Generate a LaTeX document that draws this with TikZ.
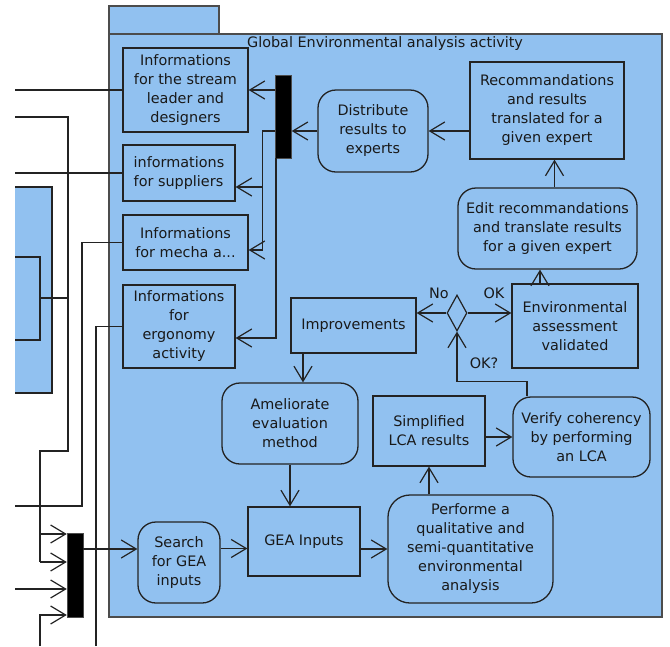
\documentclass[tikz,border=0pt]{standalone}
\usepackage{fontspec}
\setmainfont{DejaVu Sans}
\usetikzlibrary{arrows.meta,shapes.geometric}
\definecolor{actblue}{RGB}{145,193,240}
\definecolor{edge}{RGB}{35,35,35}

\begin{document}
\begin{tikzpicture}[x=1pt,y=-1pt,
        every node/.style={font=\fontsize{14.4}{19}\selectfont,text=black!90},
        objbox/.style={draw=edge,line width=1.3pt,fill=actblue,inner sep=0pt,align=center},
        action/.style={objbox,rounded corners=18pt},
        decision/.style={draw=edge,line width=1.2pt,fill=actblue,diamond,inner sep=0pt,minimum width=20pt,minimum height=36pt},
        forkbar/.style={draw=black!70,fill=black,inner sep=0pt,minimum width=16pt},
        wire/.style={draw=edge,line width=1.2pt},
        flow/.style={wire,-{Straight Barb[length=15pt,width=18pt]}}]
        \useasboundingbox (0,0) rectangle (670,646);

        % frame of the activity and the cut off box on the left
        \draw[fill=actblue,draw=black!70,line width=1.3pt] (109,6) rectangle (219,34);
        \draw[fill=actblue,draw=black!70,line width=1.3pt] (109,34) rectangle (662,617);
        \node (title) at (385,44) {Global Environmental analysis activity};
        \fill[actblue] (15,187) rectangle (52,393);
        \draw[wire] (15,187) -- (52,187) -- (52,393) -- (15,393);
        \draw[wire] (15,257) -- (40,257) -- (40,340) -- (15,340);
        \draw[wire] (40,298) -- (68,298);

        \node[objbox,minimum width=125pt,minimum height=84pt] (stream) at (185.5,90) {Informations\\for the stream\\leader and\\designers};
        \node[objbox,minimum width=112pt,minimum height=56pt,align=left] (suppl) at (179,173) {informations\\for suppliers};
        \node[objbox,minimum width=125pt,minimum height=55pt] (mecha) at (185.5,242.5) {Informations\\for mecha a...};
        \node[objbox,minimum width=112pt,minimum height=83pt] (ergo) at (179,326.5) {Informations\\for\\ergonomy\\activity};
        \node[forkbar,minimum height=83pt] (forkT) at (283.5,116.5) {};
        \node[action,minimum width=110pt,minimum height=82pt] (distrib) at (373,131) {Distribute\\results to\\experts};
        \node[objbox,minimum width=154pt,minimum height=97pt] (recom) at (547,110.5) {Recommandations\\and results\\translated for a\\given expert};
        \node[action,minimum width=179pt,minimum height=81pt] (edit) at (547.5,228.5) {Edit recommandations\\and translate results\\for a given expert};
        \node[objbox,minimum width=126pt,minimum height=84pt] (envok) at (575,326) {Environmental\\assessment\\validated};
        \node[decision] (check) at (457,313) {};
        \node[objbox,minimum width=125pt,minimum height=55pt] (improve) at (353.5,325.5) {Improvements};
        \node[action,minimum width=136pt,minimum height=81pt] (amelio) at (290,423.5) {Ameliorate\\evaluation\\method};
        \node[objbox,minimum width=112pt,minimum height=70pt] (slca) at (429,431) {Simplified\\LCA results};
        \node[action,minimum width=137pt,minimum height=80pt] (verify) at (581.5,437) {Verify coherency\\by performing\\an LCA};
        \node[objbox,minimum width=112pt,minimum height=69pt] (gea) at (304,541.5) {GEA Inputs};
        \node[action,minimum width=82pt,minimum height=81pt] (search) at (179,562.5) {Search\\for GEA\\inputs};
        \node[action,minimum width=165pt,minimum height=108pt,rounded corners=22pt] (perform) at (470.5,549) {Performe a\\qualitative and\\semi-quantitative\\environmental\\analysis};
        \node[forkbar,minimum height=84pt] (forkB) at (75,575) {};

        \node (lblno) at (439,293) {No};
        \node (lblok) at (494,293) {OK};
        \node (lblokq) at (484,363) {OK?};

        % flows inside the activity
        \draw[flow] (forkT.west |- stream.east) -- (stream.east);
        \draw[flow] (distrib.west) -- (distrib.west -| forkT.east);
        \draw[flow] (recom.west |- distrib.east) -- (distrib.east);
        \draw[flow] ([xshift=7pt]edit.north) -- ([xshift=7pt]edit.north |- recom.south);
        \draw[flow] ([xshift=-7.5pt]edit.south |- envok.north) -- ([xshift=-7.5pt]edit.south);
        \draw[flow] (check.east) -- (check.east -| envok.west);
        \draw[flow] (check.west) -- (check.west -| improve.east);
        \draw[flow] ([xshift=-54.5pt]verify.north) -- ++(0,-15) -| (check.south);
        \draw[flow] ([xshift=-50.5pt]improve.south) -- ([xshift=-50.5pt]improve.south |- amelio.north);
        \draw[flow] (amelio.south) -- (amelio.south |- gea.north);
        \draw[flow] ([yshift=14pt]search.east) -- ([yshift=14pt]search.east -| gea.west);
        \draw[flow] (gea.east |- perform.west) -- (perform.west);
        \draw[flow] (slca.south |- perform.north) -- (slca.south);
        \draw[flow] (slca.east |- verify.west) -- (verify.west);
        \draw[flow] ([yshift=26pt]forkB.east) -- ([yshift=26pt]forkB.east -| search.west);

        \draw[wire] (forkT.west |- distrib.west) -- ++(-13,0) coordinate (splitT);
        \draw[flow] (splitT) |- ([yshift=-14pt]suppl.east);
        \draw[flow] (splitT) |- ([yshift=-7.5pt]mecha.east);
        \draw[flow] ([xshift=-7.5pt]forkT.south) |- ([yshift=-11.5pt]ergo.east);

        % wires coming from outside
        \coordinate (inA) at (15,90);
        \coordinate (inB) at (15,117);
        \coordinate (inC) at (15,173);
        \coordinate (inD) at (15,506);
        \coordinate (inE) at (15,589);
        \coordinate (inF) at (40,646);
        \coordinate (inG) at (96,646);
        \coordinate (tapA) at (40,534);
        \coordinate (tapB) at (40,562);
        \coordinate (tapF) at (40,615);
        \draw[wire] (inA) -- (stream.west);
        \draw[wire] (inB) -- (68,117) -- (68,451) -- (40,451) -- (tapB);
        \draw[flow] (tapA) -- (tapA -| forkB.west);
        \draw[flow] (tapB) -- (tapB -| forkB.west);
        \draw[wire] (inC) -- (suppl.west);
        \draw[wire] (inD) -- (82,506) |- (mecha.west);
        \draw[flow] (inE) -- (inE -| forkB.west);
        \draw[flow] (inF) -- (tapF) -- (tapF -| forkB.west);
        \draw[wire] (inG) |- (ergo.west);
    \end{tikzpicture}
\end{document}
